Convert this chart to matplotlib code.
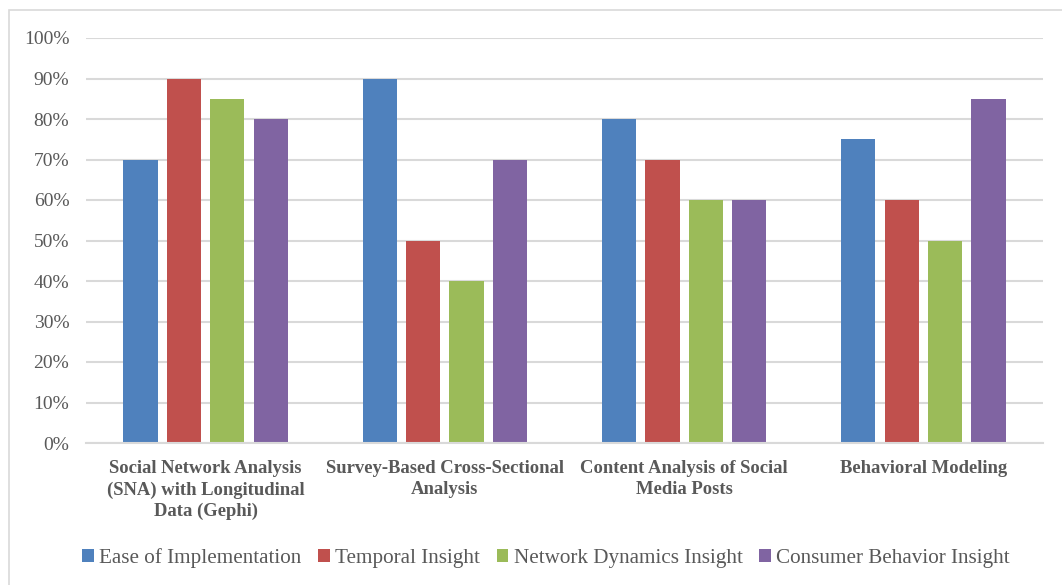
import matplotlib
matplotlib.use("Agg")
import matplotlib.pyplot as plt
from matplotlib.patches import Rectangle
from matplotlib.ticker import PercentFormatter
import numpy as np

categories = [
    "Social Network Analysis\n(SNA) with Longitudinal\nData (Gephi)",
    "Survey-Based Cross-Sectional\nAnalysis",
    "Content Analysis of Social\nMedia Posts",
    "Behavioral Modeling",
]
series_names = [
    "Ease of Implementation",
    "Temporal Insight",
    "Network Dynamics Insight",
    "Consumer Behavior Insight",
]
ease = [0.70, 0.90, 0.80, 0.75]
temporal = [0.90, 0.50, 0.70, 0.60]
network = [0.85, 0.40, 0.60, 0.50]
consumer = [0.80, 0.70, 0.60, 0.85]
yticks = [0.0, 0.1, 0.2, 0.3, 0.4, 0.5, 0.6, 0.7, 0.8, 0.9, 1.0]

colors = ["#4F81BD", "#C0504D", "#9BBB59", "#8064A2"]
text_color = "#595959"
grid_color = "#D9D9D9"

plt.rcParams["font.family"] = ["Liberation Serif", "DejaVu Serif"]

W, H = 1062, 585
fig = plt.figure(figsize=(W / 100, H / 100), dpi=100)
fig.patch.set_facecolor("white")

# outer chart frame
fig.patches.append(Rectangle((8.5 / W, -0.05), 1.2, 1 - 9.5 / H + 0.05,
                             transform=fig.transFigure, fill=False,
                             edgecolor="#D9D9D9", linewidth=1.2))

left, right, top, bottom = 86, 1043, 38, 443
ax = fig.add_axes([left / W, 1 - bottom / H, (right - left) / W, (bottom - top) / H])

x = np.arange(len(categories))
bw = 1 / 7.0
step = bw * 1.27
offsets = (np.arange(4) - 1.5) * step
for vals, name, col, off in zip([ease, temporal, network, consumer], series_names, colors, offsets):
    ax.bar(x + off, vals, width=bw, color=col, label=name, zorder=3)

ax.set_xlim(-0.5, len(categories) - 0.5)
ax.set_ylim(0, 1.0)
ax.set_yticks(yticks)
ax.yaxis.set_major_formatter(PercentFormatter(1.0, decimals=0))
ax.grid(axis="y", color=grid_color, linewidth=1.5, zorder=0)
ax.set_axisbelow(True)
for s in ["top", "right", "left"]:
    ax.spines[s].set_visible(False)
ax.spines["bottom"].set_color(grid_color)
ax.spines["bottom"].set_linewidth(1.5)
ax.spines["bottom"].set_zorder(4)

ax.tick_params(axis="y", length=0, pad=12, labelsize=14, labelcolor=text_color)
ax.tick_params(axis="x", length=0, pad=12.5)
ax.set_xticks(x)
ax.set_xticklabels(categories, fontsize=13.4, fontweight="bold", color=text_color,
                   linespacing=1.3)

leg = fig.legend(loc="center", bbox_to_anchor=(546 / W, 1 - 558 / H), ncol=4,
                 frameon=False, fontsize=15.2, handlelength=0.55, handleheight=0.55,
                 handletextpad=0.25, columnspacing=0.8, labelcolor=text_color)

fig.savefig("out.png", dpi=100, facecolor="white")
